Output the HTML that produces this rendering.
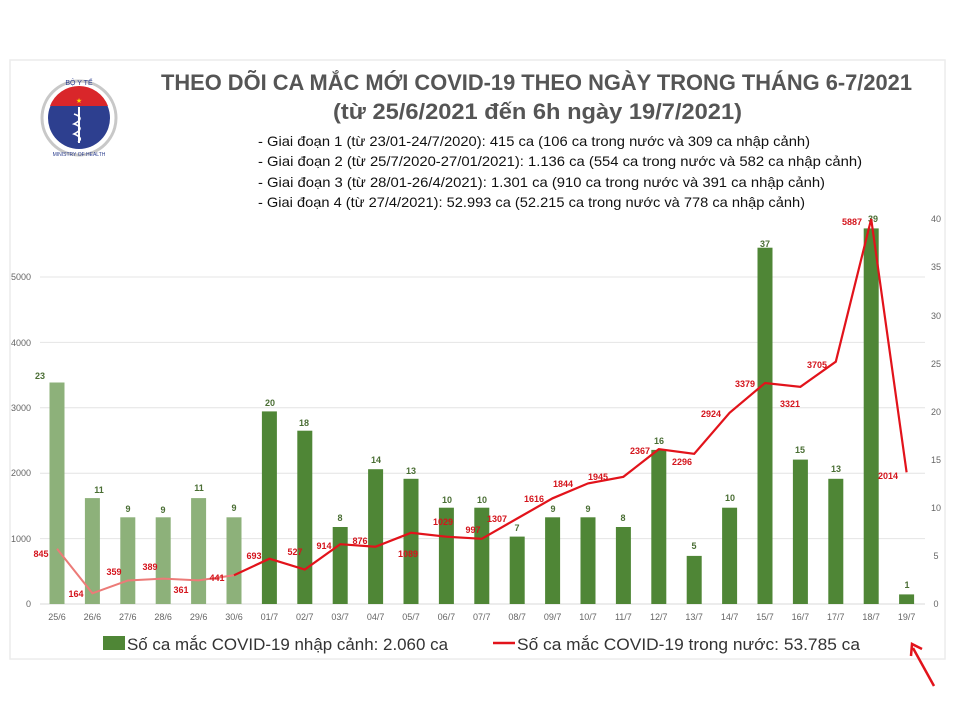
<!DOCTYPE html>
<html><head><meta charset="utf-8"><style>
html,body{margin:0;padding:0;background:#fff}
svg{display:block}
text{font-family:"Liberation Sans",sans-serif}
</style></head><body>
<svg width="960" height="720" viewBox="0 0 960 720" xmlns="http://www.w3.org/2000/svg">
<rect x="0" y="0" width="960" height="720" fill="#fff"/>
<rect x="10" y="60" width="935" height="599" fill="#fff" stroke="#ececec" stroke-width="1.5"/>
<!-- logo -->
<g>
<circle cx="79" cy="118" r="37" fill="none" stroke="#c8c8c8" stroke-width="3"/>
<circle cx="79" cy="118" r="31" fill="#2d3f8f"/>
<path d="M50 106 A31 31 0 0 1 108 106 Z" fill="#d9262a"/>
<text x="79" y="103" font-size="7" fill="#ffd400" text-anchor="middle">★</text>
<line x1="79" y1="107" x2="79" y2="143" stroke="#fff" stroke-width="2"/>
<path d="M74 114 Q86 118 74 124 Q86 128 74 134 Q84 138 78 142" fill="none" stroke="#fff" stroke-width="1.6"/>
<text x="79" y="85" font-size="7" fill="#2d3f8f" text-anchor="middle" font-family="Liberation Serif">BỘ Y TẾ</text>
<text x="79" y="156" font-size="5" fill="#2d3f8f" text-anchor="middle" font-family="Liberation Serif">MINISTRY OF HEALTH</text>
</g>
<!-- title -->
<text x="161" y="90" font-size="22" font-weight="bold" fill="#555" textLength="751" lengthAdjust="spacingAndGlyphs">THEO DÕI CA MẮC MỚI COVID-19 THEO NGÀY TRONG THÁNG 6-7/2021</text>
<text x="333" y="119" font-size="22" font-weight="bold" fill="#555" textLength="409" lengthAdjust="spacingAndGlyphs">(từ 25/6/2021 đến 6h ngày 19/7/2021)</text>
<g font-size="14" fill="#111">
<text x="258" y="146" textLength="552" lengthAdjust="spacingAndGlyphs">- Giai đoạn 1 (từ 23/01-24/7/2020): 415 ca (106 ca trong nước và 309 ca nhập cảnh)</text>
<text x="258" y="166" textLength="604" lengthAdjust="spacingAndGlyphs">- Giai đoạn 2 (từ 25/7/2020-27/01/2021): 1.136 ca (554 ca trong nước và 582 ca nhập cảnh)</text>
<text x="258" y="187" textLength="567" lengthAdjust="spacingAndGlyphs">- Giai đoạn 3 (từ 28/01-26/4/2021): 1.301 ca (910 ca trong nước và 391 ca nhập cảnh)</text>
<text x="258" y="207" textLength="547" lengthAdjust="spacingAndGlyphs">- Giai đoạn 4 (từ 27/4/2021): 52.993 ca (52.215 ca trong nước và 778 ca nhập cảnh)</text>
</g>
<!-- grid -->
<g stroke="#e4e4e4" stroke-width="1">
<line x1="40" y1="604" x2="925" y2="604" stroke="#d8d8d8"/>
<line x1="40" y1="538.6" x2="925" y2="538.6"/>
<line x1="40" y1="473.2" x2="925" y2="473.2"/>
<line x1="40" y1="407.8" x2="925" y2="407.8"/>
<line x1="40" y1="342.4" x2="925" y2="342.4"/>
<line x1="40" y1="277" x2="925" y2="277"/>
</g>
<g font-size="9" fill="#666" text-anchor="end">
<text x="31" y="607">0</text><text x="31" y="542">1000</text><text x="31" y="476">2000</text>
<text x="31" y="411">3000</text><text x="31" y="346">4000</text><text x="31" y="280">5000</text>
</g>
<g font-size="9" fill="#666" text-anchor="middle">
<text x="936" y="607">0</text><text x="936" y="559">5</text><text x="936" y="511">10</text><text x="936" y="463">15</text>
<text x="936" y="415">20</text><text x="936" y="367">25</text><text x="936" y="319">30</text><text x="936" y="270">35</text><text x="936" y="222">40</text>
</g>
<!-- bars -->
<g fill="#8db17a">
<rect x="49.5" y="382.5" width="15" height="221.5"/>
<rect x="84.9" y="498.1" width="15" height="105.9"/>
<rect x="120.3" y="517.3" width="15" height="86.7"/>
<rect x="155.7" y="517.3" width="15" height="86.7"/>
<rect x="191.1" y="498.1" width="15" height="105.9"/>
<rect x="226.5" y="517.3" width="15" height="86.7"/>
</g>
<g fill="#4f8636">
<rect x="261.9" y="411.4" width="15" height="192.6"/>
<rect x="297.3" y="430.7" width="15" height="173.3"/>
<rect x="332.7" y="527" width="15" height="77"/>
<rect x="368.1" y="469.2" width="15" height="134.8"/>
<rect x="403.5" y="478.8" width="15" height="125.2"/>
<rect x="438.9" y="507.7" width="15" height="96.3"/>
<rect x="474.3" y="507.7" width="15" height="96.3"/>
<rect x="509.7" y="536.6" width="15" height="67.4"/>
<rect x="545.1" y="517.3" width="15" height="86.7"/>
<rect x="580.5" y="517.3" width="15" height="86.7"/>
<rect x="615.9" y="527" width="15" height="77"/>
<rect x="651.3" y="449.9" width="15" height="154.1"/>
<rect x="686.7" y="555.9" width="15" height="48.1"/>
<rect x="722.1" y="507.7" width="15" height="96.3"/>
<rect x="757.5" y="247.7" width="15" height="356.3"/>
<rect x="792.9" y="459.6" width="15" height="144.4"/>
<rect x="828.3" y="478.8" width="15" height="125.2"/>
<rect x="863.7" y="228.4" width="15" height="375.6"/>
<rect x="899.1" y="594.4" width="15" height="9.6"/>
</g>
<!-- bar labels -->
<g font-size="9" font-weight="bold" fill="#4a6e34" text-anchor="middle">
<text x="40" y="379">23</text><text x="99" y="493">11</text><text x="128" y="512">9</text><text x="163" y="513">9</text>
<text x="199" y="491">11</text><text x="234" y="511">9</text><text x="270" y="406">20</text><text x="304" y="426">18</text>
<text x="340" y="521">8</text><text x="376" y="463">14</text><text x="411" y="474">13</text><text x="447" y="503">10</text>
<text x="482" y="503">10</text><text x="517" y="531">7</text><text x="553" y="512">9</text><text x="588" y="512">9</text>
<text x="623" y="521">8</text><text x="659" y="444">16</text><text x="694" y="549">5</text><text x="730" y="501">10</text>
<text x="765" y="247">37</text><text x="800" y="453">15</text><text x="836" y="472">13</text><text x="873" y="222">39</text><text x="907" y="588">1</text>
</g>
<!-- line -->
<polyline fill="none" stroke="#ec7b78" stroke-width="2" points="57,548.7 92.4,593.3 127.8,580.5 163.2,578.6 198.6,580.4 234,575.2"/>
<polyline fill="none" stroke="#e2131b" stroke-width="2.2" points="234,575.2 269.4,558.7 304.8,569.5 340.2,544.2 375.6,546.7 411,532.8 446.4,536.7 481.8,538.8 517.2,518.5 552.6,498.3 588,483.4 623.4,476.8 658.8,449.2 694.2,453.8 729.6,412.8 765,383 800.4,386.8 835.8,361.7 871.2,219 906.6,472.3"/>
<g font-size="9" font-weight="bold" fill="#d4141c" text-anchor="middle">
<text x="41" y="557">845</text><text x="76" y="597">164</text><text x="114" y="575">359</text><text x="150" y="570">389</text>
<text x="181" y="593">361</text><text x="217" y="581">441</text><text x="254" y="559">693</text><text x="295" y="555">527</text>
<text x="324" y="549">914</text><text x="360" y="544">876</text><text x="408" y="557">1089</text><text x="443" y="525">1029</text>
<text x="473" y="533">997</text><text x="497" y="522">1307</text><text x="534" y="502">1616</text><text x="563" y="487">1844</text>
<text x="598" y="480">1945</text><text x="640" y="454">2367</text><text x="682" y="465">2296</text><text x="711" y="417">2924</text>
<text x="745" y="387">3379</text><text x="790" y="407">3321</text><text x="817" y="368">3705</text><text x="852" y="225">5887</text><text x="888" y="479">2014</text>
</g>
<!-- x labels -->
<g font-size="9" fill="#666" text-anchor="middle">
<text x="57" y="620">25/6</text><text x="92.4" y="620">26/6</text><text x="127.8" y="620">27/6</text><text x="163.2" y="620">28/6</text>
<text x="198.6" y="620">29/6</text><text x="234" y="620">30/6</text><text x="269.4" y="620">01/7</text><text x="304.8" y="620">02/7</text>
<text x="340.2" y="620">03/7</text><text x="375.6" y="620">04/7</text><text x="411" y="620">05/7</text><text x="446.4" y="620">06/7</text>
<text x="481.8" y="620">07/7</text><text x="517.2" y="620">08/7</text><text x="552.6" y="620">09/7</text><text x="588" y="620">10/7</text>
<text x="623.4" y="620">11/7</text><text x="658.8" y="620">12/7</text><text x="694.2" y="620">13/7</text><text x="729.6" y="620">14/7</text>
<text x="765" y="620">15/7</text><text x="800.4" y="620">16/7</text><text x="835.8" y="620">17/7</text><text x="871.2" y="620">18/7</text><text x="906.6" y="620">19/7</text>
</g>
<!-- legend -->
<rect x="103" y="636" width="22" height="14" fill="#4f8636"/>
<text x="127" y="650" font-size="17" fill="#333" textLength="321" lengthAdjust="spacingAndGlyphs">Số ca mắc COVID-19 nhập cảnh: 2.060 ca</text>
<line x1="493" y1="643" x2="515" y2="643" stroke="#e2131b" stroke-width="2.5"/>
<text x="517" y="650" font-size="17" fill="#333" textLength="343" lengthAdjust="spacingAndGlyphs">Số ca mắc COVID-19 trong nước: 53.785 ca</text>
<!-- arrow -->
<line x1="934" y1="686" x2="913" y2="648" stroke="#e2131b" stroke-width="2.5"/>
<polyline points="911,656 912,644 922,649" fill="none" stroke="#e2131b" stroke-width="2.5"/>
</svg>
</body></html>
